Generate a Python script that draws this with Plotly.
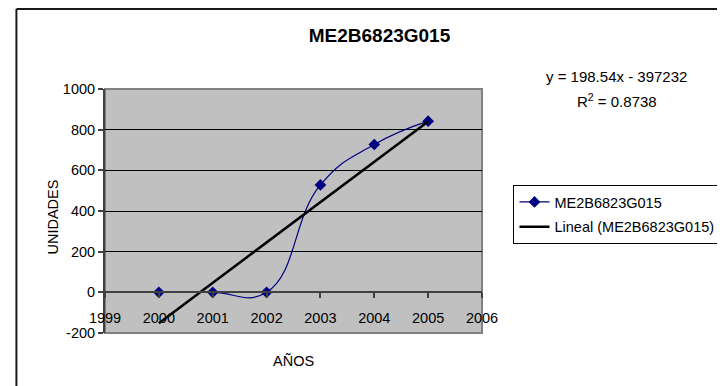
import plotly.graph_objects as go

# ---- data ----
years = [2000, 2001, 2002, 2003, 2004, 2005]
unidades = [0, 0, 0, 528, 727, 842]
series_name = "ME2B6823G015"
trend_name = "Lineal (ME2B6823G015)"
slope = 198.54
intercept = -397232
r2 = 0.8738
x_ticks = [1999, 2000, 2001, 2002, 2003, 2004, 2005, 2006]
y_ticks = [-200, 0, 200, 400, 600, 800, 1000]

FONT = "Liberation Sans, Arial, sans-serif"

# page body has an 8px default margin: work in reference pixels, shift by OFF
OFF = 8
W, H = 725, 386 - OFF
PL, PR, PT, PB = 105, 488, 89, 333  # plot area in reference pixels


def px(x):
    return (x - PL) / (PR - PL)


def py(y):
    return (PB - y) / (PB - PT)


trend_x = [years[0], years[-1]]
trend_y = [slope * x + intercept for x in trend_x]

fig = go.Figure()
fig.add_trace(go.Scatter(
    x=years, y=unidades, name=series_name, mode="lines+markers",
    line=dict(color="#000080", width=1.2, shape="spline", smoothing=1.3),
    marker=dict(symbol="diamond", size=9, color="#000080"),
    legendgroup="a",
))
fig.add_trace(go.Scatter(
    x=trend_x, y=trend_y, name=trend_name, mode="lines",
    line=dict(color="#000000", width=2.5),
    legendgroup="b",
))

y_min, y_max = y_ticks[0], y_ticks[-1]
zero_pos = (0 - y_min) / (y_max - y_min)

fig.update_layout(
    width=W, height=H,
    margin=dict(l=PL - OFF, r=W - (PR - OFF), t=PT - OFF, b=H - (PB - OFF)),
    paper_bgcolor="white",
    plot_bgcolor="#C0C0C0",
    font=dict(family=FONT, size=14, color="black"),
    title=dict(text="<b>" + series_name + "</b>", x=(379.5 - OFF) / W, y=1 - (35.5 - OFF) / H,
               xanchor="center", yanchor="middle",
               font=dict(family=FONT, size=19, color="black")),
    showlegend=True,
    legend=dict(x=px(520), y=py(185), xanchor="left", yanchor="top",
                bgcolor="white", bordercolor="black", borderwidth=1,
                font=dict(family=FONT, size=14.5, color="black"),
                traceorder="grouped", tracegroupgap=3, itemwidth=30),
    xaxis=dict(range=[x_ticks[0], x_ticks[-1]], tickvals=x_ticks,
               ticktext=[str(t) for t in x_ticks],
               anchor="free", position=zero_pos,
               showline=True, linecolor="#404040", linewidth=1.5,
               ticks="outside", ticklen=5, tickcolor="#404040", tickwidth=1.5,
               ticklabelstandoff=8,
               showgrid=False, zeroline=False,
               tickfont=dict(family=FONT, size=14.5, color="black")),
    yaxis=dict(range=[y_min, y_max], tickvals=y_ticks,
               ticktext=[str(t) for t in y_ticks],
               showline=True, linecolor="#404040", linewidth=2,
               ticks="outside", ticklen=5, tickcolor="#404040", tickwidth=1.5,
               showgrid=True, gridcolor="black", gridwidth=1,
               zeroline=False,
               tickfont=dict(family=FONT, size=14.5, color="black")),
)

# plot area border (gray) and outer chart border
fig.add_shape(type="rect", xref="paper", yref="paper", x0=0, y0=0, x1=1, y1=1,
              line=dict(color="#808080", width=2), layer="below")
fig.add_shape(type="line", xref="paper", yref="paper",
              x0=px(15), x1=px(760), y0=py(9), y1=py(9),
              line=dict(color="#1a1a1a", width=2))
fig.add_shape(type="line", xref="paper", yref="paper",
              x0=px(15), x1=px(15), y0=py(9), y1=py(420),
              line=dict(color="#1a1a1a", width=2))

# axis titles
fig.add_annotation(text="UNIDADES", xref="paper", yref="paper",
                   x=px(52), y=py(216.7),
                   textangle=-90, showarrow=False, xanchor="center", yanchor="middle",
                   font=dict(family=FONT, size=14.5, color="black"))
fig.add_annotation(text="AÑOS", xref="paper", yref="paper",
                   x=px(296), y=py(360.5),
                   showarrow=False, xanchor="center", yanchor="middle",
                   font=dict(family=FONT, size=14.5, color="black"))

# trendline equation
fig.add_annotation(text=f"y = {slope}x - {abs(intercept)}", xref="paper", yref="paper",
                   x=px(625), y=py(76),
                   showarrow=False, xanchor="center", yanchor="middle",
                   font=dict(family=FONT, size=15, color="black"))
fig.add_annotation(text=f"R<sup>2</sup> = {r2}", xref="paper", yref="paper",
                   x=px(625), y=py(100),
                   showarrow=False, xanchor="center", yanchor="middle",
                   font=dict(family=FONT, size=15, color="black"))

fig.write_html("out.html")
